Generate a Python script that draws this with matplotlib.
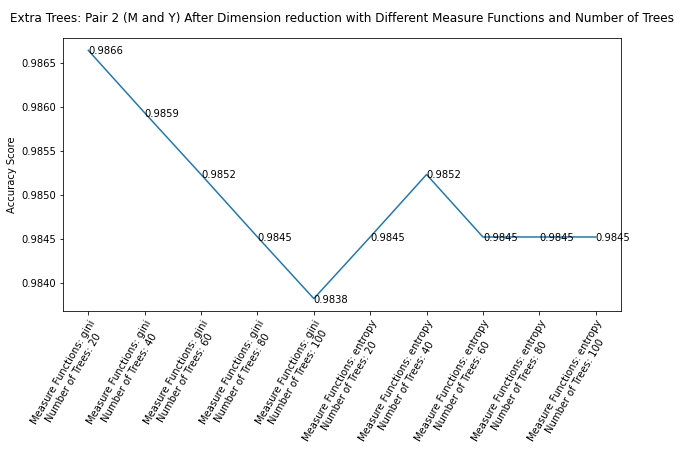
import matplotlib
matplotlib.use("Agg")
import matplotlib.pyplot as plt

measures = ["gini"] * 5 + ["entropy"] * 5
trees = [20, 40, 60, 80, 100] * 2
scores = [0.98664, 0.98593, 0.98523, 0.98452, 0.98382,
          0.98452, 0.98523, 0.98452, 0.98452, 0.98452]

labels = [f"Measure Functions: {m}\nNumber of Trees: {t}" for m, t in zip(measures, trees)]

fig = plt.figure(figsize=(681 / 72, 457 / 72), dpi=72)
ax = fig.add_axes([63 / 681, 1 - 311 / 457, 558 / 681, 273 / 457])
x = list(range(len(scores)))
ax.plot(x, scores, color="#1f77b4")
for xi, s in zip(x, scores):
    ax.text(xi, s, f"{s:.4f}", fontsize=10, va="center_baseline", ha="left")
ax.set_xticks(x)
ax.set_xticklabels(labels, rotation=60, ha="right", rotation_mode="anchor",
                   fontsize=10, multialignment="center")
ax.set_ylabel("Accuracy Score")
ax.set_title("Extra Trees: Pair 2 (M and Y) After Dimension reduction with Different Measure Functions and Number of Trees",
             fontsize=12, pad=16)
fig.savefig("out.png", dpi=72)
